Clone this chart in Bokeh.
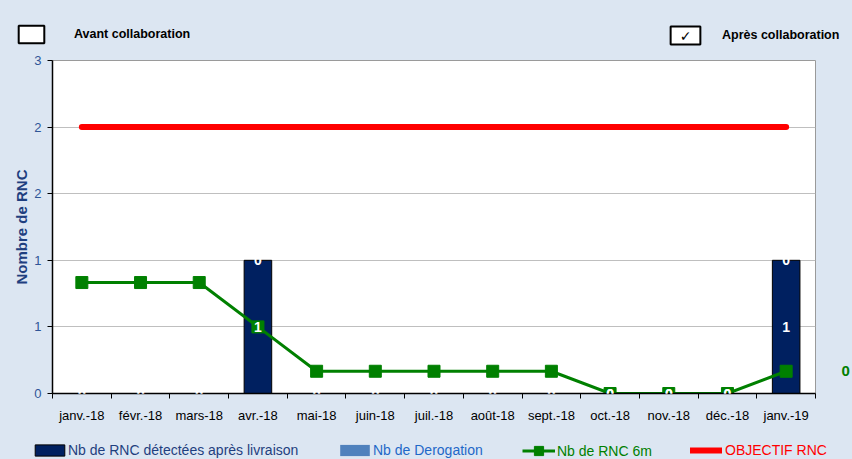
from bokeh.plotting import figure
from bokeh.models import (ColumnDataSource, FixedTicker, Range1d, Legend, LegendItem,
                          LabelSet, Label, LinearAxis)
from bokeh.core.properties import value
from bokeh.layouts import column
from bokeh.embed import file_html
from bokeh.resources import INLINE

# ---- data ----
months = ["janv.-18", "févr.-18", "mars-18", "avr.-18", "mai-18", "juin-18", "juil.-18",
          "août-18", "sept.-18", "oct.-18", "nov.-18", "déc.-18", "janv.-19"]
rnc_detected = [0, 0, 0, 1, 0, 0, 0, 0, 0, 0, 0, 0, 1]
derogation = [0, 0, 0, 0, 0, 0, 0, 0, 0, 0, 0, 0, 0]
rnc_6m = [0.833, 0.833, 0.833, 0.5, 0.167, 0.167, 0.167, 0.167, 0.167, 0, 0, 0, 0.167]
objectif = [2, 2, 2, 2, 2, 2, 2, 2, 2, 2, 2, 2, 2]
y_ticks = [0, 0.5, 1, 1.5, 2, 2.5]
y_tick_labels = ["0", "1", "1", "2", "2", "3"]
series_names = ["Nb de RNC détectées après livraison", "Nb de Derogation",
                "Nb de RNC 6m", "OBJECTIF RNC"]
period_names = ["Avant collaboration", "Après collaboration"]

BG = "#DCE6F2"
NAVY = "#002060"
LIGHTBLUE = "#4F81BD"
GREEN = "#008000"
RED = "#FF0000"
FONT = "Liberation Sans"
W = 852

xs = list(range(len(months)))
top_stack = [a + b for a, b in zip(rnc_detected, derogation)]
src = ColumnDataSource(dict(
    x=xs, det=rnc_detected, derog=derogation, top=top_stack,
    mid=[d / 2 for d in rnc_detected],
    det_lbl=[str(int(round(d))) for d in rnc_detected],
    derog_lbl=[str(int(round(d))) for d in derogation],
    six=rnc_6m, obj=objectif,
))

# off-screen placeholder so legend swatches have something to draw
OFF = [-1000]


def strip(height):
    f = figure(width=W, height=height, output_backend="svg", toolbar_location=None,
               x_range=Range1d(0, W), y_range=Range1d(0, height),
               min_border=0, min_border_left=0, min_border_right=0,
               min_border_top=0, min_border_bottom=0, frame_align=False)
    f.xaxis.visible = False
    f.yaxis.visible = False
    f.grid.visible = False
    f.outline_line_color = None
    f.background_fill_color = BG
    f.border_fill_color = BG
    return f


def add_legend(fig, label, renderers, loc, color, gw=30, gh=11, standoff=3, size="14px",
               style="normal"):
    lg = Legend(items=[LegendItem(label=label, renderers=renderers)], location=loc,
                orientation="horizontal", glyph_width=gw, glyph_height=gh,
                label_standoff=standoff, label_text_color=color, label_text_font=FONT,
                label_text_font_size=size, label_text_font_style=style,
                label_height=gh, padding=0, margin=0, spacing=0,
                border_line_color=None, background_fill_alpha=0)
    fig.add_layout(lg)


# ---------- top strip ----------
top = strip(50)
box_a = top.rect(x=OFF, y=OFF, width=1, height=1, fill_color="white", line_color="black",
                 line_width=2)
box_b = top.rect(x=OFF, y=OFF, width=1, height=1, fill_alpha=0, line_alpha=0)
add_legend(top, period_names[0], [box_a], (15, 5), "black", gw=32, gh=22,
           standoff=27, size="12.5px", style="bold")
add_legend(top, period_names[1], [box_b], (666, 4), "black", gw=37, gh=22,
           standoff=19, size="12.5px", style="bold")
# ticked check box drawn as a boxed label
top.add_layout(Label(x=685, y=15, text="✓", text_font="DejaVu Sans", text_font_size="14px",
                     text_color="black", text_align="center", text_baseline="middle",
                     background_fill_color="white", border_line_color="black",
                     border_line_width=2, padding=(9, 1)))

# ---------- main chart ----------
p = figure(width=W, height=380, output_backend="svg", toolbar_location=None,
           x_range=Range1d(-0.5, len(months) - 0.5), y_range=Range1d(0, 2.5),
           min_border_left=52, min_border_right=36, min_border_top=10, min_border_bottom=37,
           frame_align=False)
p.background_fill_color = "white"
p.border_fill_color = BG
p.outline_line_color = "#9A9A9A"
p.outline_line_width = 1

r_det = p.vbar(x="x", top="det", bottom=0, width=0.47, source=src,
               fill_color=NAVY, line_color="black", line_width=1)
r_der = p.vbar(x="x", top="top", bottom="det", width=0.47, source=src,
               fill_color=LIGHTBLUE, line_color=None)
r_obj = p.line(x="x", y="obj", source=src, line_color=RED, line_width=6, line_cap="round")
r_six_l = p.line(x="x", y="six", source=src, line_color=GREEN, line_width=3)
r_six_m = p.scatter(x="x", y="six", source=src, marker="square", size=12,
                    fill_color=GREEN, line_color=GREEN)

for ycol, tcol in (("mid", "det_lbl"), ("top", "derog_lbl")):
    p.add_layout(LabelSet(x="x", y=ycol, text=tcol, source=src, text_color="white",
                          text_font=value(FONT), text_font_style="bold",
                          text_font_size="14px", text_align="center",
                          text_baseline="middle"))

# x axis
p.xaxis.ticker = FixedTicker(ticks=xs, minor_ticks=[i - 0.5 for i in range(len(months) + 1)])
p.xaxis.major_label_overrides = {i: m for i, m in enumerate(months)}
p.xaxis.major_tick_line_color = None
p.xaxis.major_tick_out = 0
p.xaxis.major_tick_in = 0
p.xaxis.minor_tick_out = 5
p.xaxis.minor_tick_in = 0
p.xaxis.minor_tick_line_color = "black"
p.xaxis.axis_line_color = "black"
p.xaxis.axis_line_width = 1.5
p.xaxis.major_label_text_font = FONT
p.xaxis.major_label_text_font_size = "13px"
p.xaxis.major_label_text_color = "black"
p.xaxis.major_label_standoff = 9

# y axis
p.yaxis.ticker = FixedTicker(ticks=y_ticks, minor_ticks=[])
p.yaxis.major_label_overrides = {t: l for t, l in zip(y_ticks, y_tick_labels)}
p.yaxis.major_tick_out = 5
p.yaxis.major_tick_in = 0
p.yaxis.major_tick_line_color = "black"
p.yaxis.axis_line_color = "black"
p.yaxis.axis_line_width = 1.5
p.yaxis.major_label_text_font = FONT
p.yaxis.major_label_text_font_size = "13px"
p.yaxis.major_label_text_color = "#2F5597"
p.yaxis.major_label_standoff = 6
p.yaxis.axis_label = "Nombre de RNC"
p.yaxis.axis_label_text_font = FONT
p.yaxis.axis_label_text_font_style = "bold"
p.yaxis.axis_label_text_font_size = "15px"
p.yaxis.axis_label_text_color = "#1F3F7F"
p.yaxis.axis_label_standoff = 1

# right-side label of the last 6-month value
last = rnc_6m[-1]
ax_r = LinearAxis(ticker=FixedTicker(ticks=[last], minor_ticks=[]),
                  major_label_overrides={last: str(int(round(last)))},
                  axis_line_color=None, major_tick_line_color=None,
                  major_tick_out=0, major_tick_in=0, major_label_standoff=26,
                  major_label_text_color=GREEN, major_label_text_font=FONT,
                  major_label_text_font_style="bold", major_label_text_font_size="15px")
p.add_layout(ax_r, "right")

p.xgrid.grid_line_color = None
p.ygrid.grid_line_color = "#BFBFBF"
p.ygrid.grid_line_width = 1

# ---------- bottom legend strip ----------
bot = strip(29)
d_det = bot.vbar(x=OFF, top=OFF, width=1, fill_color=NAVY, line_color="black", line_width=1)
d_der = bot.vbar(x=OFF, top=OFF, width=1, fill_color=LIGHTBLUE, line_color=None)
d_six_l = bot.line(x=OFF, y=OFF, line_color=GREEN, line_width=3)
d_six_m = bot.scatter(x=OFF, y=OFF, marker="square", size=10, fill_color=GREEN,
                      line_color=GREEN)
d_obj = bot.line(x=OFF, y=OFF, line_color=RED, line_width=6, line_cap="round")

add_legend(bot, series_names[0], [d_det], (31, 1), "#1F3F7F", gw=37, gh=14, standoff=0)
add_legend(bot, series_names[1], [d_der], (336, 1), "#1F68C8", gw=37, gh=14, standoff=0)
add_legend(bot, series_names[2], [d_six_l, d_six_m], (522, -3), GREEN, gw=33, gh=23,
           standoff=2)
add_legend(bot, series_names[3], [d_obj], (690, 1), RED, gw=32, gh=14, standoff=3)

layout = column(top, p, bot, spacing=0)

html = file_html(layout, INLINE)
html = html.replace("<head>", "<head><style>html, body {background: #DCE6F2;}</style>", 1)
open("out.html", "w").write(html)
